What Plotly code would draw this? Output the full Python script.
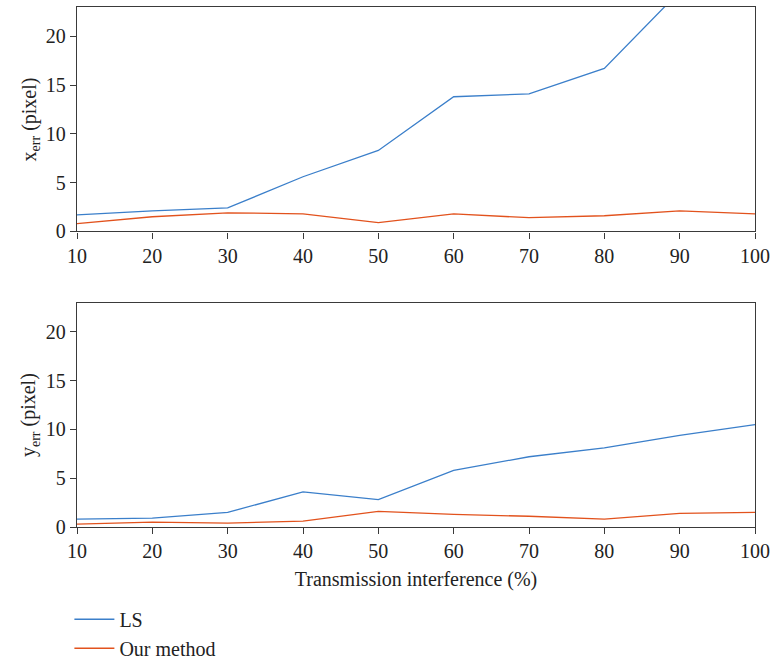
import plotly.graph_objects as go
from plotly.subplots import make_subplots

# Transmission interference levels (%)
interference = [10, 20, 30, 40, 50, 60, 70, 80, 90, 100]

# Horizontal error (pixel)
x_err_ls = [1.7, 2.1, 2.4, 5.6, 8.3, 13.8, 14.1, 16.7, 24.6, 31.0]
x_err_ours = [0.8, 1.5, 1.9, 1.8, 0.9, 1.8, 1.4, 1.6, 2.1, 1.8]

# Vertical error (pixel)
y_err_ls = [0.8, 0.9, 1.5, 3.6, 2.8, 5.8, 7.2, 8.1, 9.4, 10.5]
y_err_ours = [0.3, 0.5, 0.4, 0.6, 1.6, 1.3, 1.1, 0.8, 1.4, 1.5]

x_ticks = [10, 20, 30, 40, 50, 60, 70, 80, 90, 100]
y_ticks = [0, 5, 10, 15, 20]

BLUE = "#3b7fca"
ORANGE = "#e2521d"
FONT = "Liberation Serif"
AXIS_COLOR = "#3a3a3a"
TEXT_COLOR = "#222222"
FS = 20

fig = make_subplots(rows=2, cols=1, shared_xaxes=False, vertical_spacing=0.137)

fig.add_trace(go.Scatter(x=interference, y=x_err_ls, mode="lines", name="LS",
                         line=dict(color=BLUE, width=1.3)), row=1, col=1)
fig.add_trace(go.Scatter(x=interference, y=x_err_ours, mode="lines", name="Our method",
                         line=dict(color=ORANGE, width=1.3)), row=1, col=1)
fig.add_trace(go.Scatter(x=interference, y=y_err_ls, mode="lines", name="LS",
                         line=dict(color=BLUE, width=1.3), showlegend=False), row=2, col=1)
fig.add_trace(go.Scatter(x=interference, y=y_err_ours, mode="lines", name="Our method",
                         line=dict(color=ORANGE, width=1.3), showlegend=False), row=2, col=1)

axis_common = dict(
    showgrid=False, zeroline=False, showline=True, linecolor=AXIS_COLOR, linewidth=1.3,
    mirror=True, ticks="outside", ticklen=6, tickwidth=1.2, tickcolor=AXIS_COLOR,
    tickfont=dict(family=FONT, size=FS, color=TEXT_COLOR),
)

for r in (1, 2):
    fig.update_xaxes(range=[10, 100], tickvals=x_ticks, **axis_common, row=r, col=1)
    fig.update_yaxes(range=[0, 23], tickvals=y_ticks, **axis_common, row=r, col=1)

fig.update_xaxes(title=dict(text="Transmission interference (%)",
                            font=dict(family=FONT, size=FS, color=TEXT_COLOR), standoff=10), row=2, col=1)

# Rotated y-axis titles, centred on each panel
for yref, label in (("y domain", "x<sub>err</sub> (pixel)"), ("y2 domain", "y<sub>err</sub> (pixel)")):
    fig.add_annotation(text=label, textangle=-90, xref="paper", x=-0.069, xanchor="center",
                       yref=yref, y=0.5, yanchor="middle", showarrow=False,
                       font=dict(family=FONT, size=FS, color=TEXT_COLOR))

fig.update_layout(
    width=771, height=662,
    margin=dict(l=77, r=16, t=7, b=135, autoexpand=False),
    plot_bgcolor="white", paper_bgcolor="white",
    font=dict(family=FONT, size=FS, color=TEXT_COLOR),
    showlegend=True,
    legend=dict(x=0.09, xref="container", xanchor="left", y=0.094, yref="container", yanchor="top",
                bgcolor="rgba(0,0,0,0)", tracegroupgap=0, itemwidth=40,
                font=dict(family=FONT, size=FS, color=TEXT_COLOR)),
)

fig.write_html("out.html")
